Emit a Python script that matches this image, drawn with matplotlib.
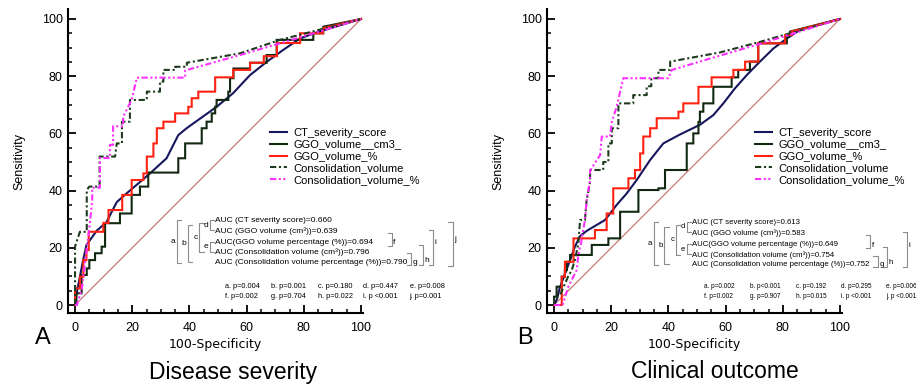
import matplotlib
matplotlib.use("Agg")
import matplotlib.pyplot as plt

plt.rcParams['font.family'] = ['Liberation Sans', 'DejaVu Sans']

# ---------------- data ----------------
series_names = ["CT_severity_score", "GGO_volume__cm3_", "GGO_volume_%",
                "Consolidation_volume", "Consolidation_volume_%"]
auc_labels = ["AUC (CT severity score)", "AUC (GGO volume (cm\u00b3))",
              "AUC(GGO volume percentage (%))", "AUC (Consolidation volume (cm\u00b3))",
              "AUC (Consolidation volume percentage (%))"]
p_letters = list("abcdefghij")
panel_letters = ["A", "B"]
panel_titles = ["Disease severity", "Clinical outcome"]

# Panel A (Disease severity): 100-Specificity (x) / Sensitivity (y)
a_ct_fpr = [0, 0.2, 1.7, 2.9, 4, 7.6, 11, 14.6, 18, 22.7, 26.2, 32, 36.1, 39, 49.5, 55.2, 61.2, 67, 72.8, 78.7, 85, 100]
a_ct_tpr = [0, 2.3, 9.9, 16, 21, 26, 29, 36, 39, 43, 46, 51.3, 59.4, 61.8, 69.3, 74, 80.4, 85, 89.2, 93.2, 95.5, 100]

a_ggo_cm3_fpr = [0, 0.5, 0.5, 2.3, 2.3, 4.1, 4.1, 5, 5, 7, 7, 9.3, 9.3, 10.5, 10.5, 15.7, 15.7, 19.8, 19.8, 22.7, 22.7, 25.6, 25.6,
                 36.1, 36.1, 38.5, 38.5, 44.3, 44.3, 46, 46, 47.8, 47.8, 49, 49, 49.5, 49.5, 53.6, 53.6, 54.2, 54.2, 55.4, 55.4,
                 61.2, 61.2, 67, 67, 70.5, 70.5, 83.3, 83.3, 86.8, 86.8, 100]
a_ggo_cm3_tpr = [0, 0, 4.1, 4.1, 10.5, 10.5, 12.8, 12.8, 15.7, 15.7, 18.1, 18.1, 20.4, 20.4, 28.6, 28.6, 32, 32, 38.5, 38.5, 41.4, 41.4, 46.3,
                 46.3, 51.3, 51.3, 56.5, 56.5, 61.8, 61.8, 64.1, 64.1, 67, 67, 69.3, 69.3, 71.7, 71.7, 74.6, 74.6, 79.3, 79.3, 82.7,
                 82.7, 84.7, 84.7, 87.4, 87.4, 92.7, 92.7, 95, 95, 97.3, 100]

a_ggo_pct_fpr = [0, 0, 1.7, 1.7, 2.9, 2.9, 4, 4, 4.8, 4.8, 9.9, 9.9, 11.7, 11.7, 16.5, 16.5, 19.8, 19.8, 23.9, 23.9, 25.1, 25.1,
                 27.4, 27.4, 28.6, 28.6, 30.9, 30.9, 35, 35, 39.6, 39.6, 40.8, 40.8, 43.1, 43.1, 49, 49, 55.3, 55.3, 61.2, 61.2,
                 66, 66, 70.6, 70.6, 78.7, 78.7, 86.7, 86.7, 100]
a_ggo_pct_tpr = [0, 5.8, 5.8, 9.9, 9.9, 15.7, 15.7, 19.2, 19.2, 25.6, 25.6, 28.7, 28.7, 33.2, 33.2, 38.5, 38.5, 43.7, 43.7, 46, 46, 51.9,
                 51.9, 56.5, 56.5, 61.8, 61.8, 64.1, 64.1, 67, 67, 69.3, 69.3, 72.3, 72.3, 74.6, 74.6, 79.6, 79.6, 82.2, 82.2, 84.7,
                 84.7, 87, 87, 91.6, 91.6, 95, 95, 96.8, 100]

a_cons_fpr = [0, 0, 1.7, 4.1, 4.1, 5, 8.6, 8.6, 14, 14.6, 16.4, 16.4, 19.2, 19.2, 25.1, 25.1, 29.7, 29.7, 30.9, 30.9, 35, 35,
              39.1, 39.1, 57.7, 71.7, 100]
a_cons_tpr = [0, 20.4, 25.6, 25.6, 40.2, 41.4, 41.4, 51.9, 51.9, 56.5, 56.5, 64.1, 64.1, 71.7, 71.7, 74.6, 74.6, 78.1, 78.1, 82.2,
              82.2, 83.3, 83.3, 84.7, 88, 92.7, 100]

a_cons_pct_fpr = [0, 0.6, 2.3, 3.5, 5.2, 6, 6, 8.7, 8.7, 12.2, 12.2, 13.3, 13.3, 16.8, 16.8, 19.8, 21.6, 38.5, 38.5, 57.7, 71.7, 100]
a_cons_pct_tpr = [0, 0, 5.2, 14.7, 28.7, 36.7, 41, 41, 51.4, 51.4, 56, 56, 62.5, 62.5, 65.8, 71.7, 79.5, 79.5, 82, 87.4, 91.5, 100]

# Panel B (Clinical outcome)
b_ct_fpr = [0, 1, 2, 3.5, 5.6, 7.3, 9.1, 11.4, 17.8, 21.9, 25.4, 28.9, 33.6, 38.2, 44, 51, 55.7, 59.2, 63.3, 67.4, 72, 76.7, 81.4, 86, 100]
b_ct_tpr = [0, 2, 6, 10, 15.7, 20.4, 24.1, 25.9, 29.7, 35, 39, 43.7, 50.7, 56.5, 59.6, 63, 66.4, 70.5, 75.8, 80.4, 85.1, 89.7, 93.2, 96.2, 100]

b_ggo_cm3_fpr = [0, 0, 0.9, 0.9, 2.7, 2.7, 3.8, 3.8, 4.5, 4.5, 5.6, 5.6, 13.2, 13.2, 19, 19, 23.1, 23.1, 29.5, 29.5, 36.5, 36.5,
                 38.8, 38.8, 46.4, 46.4, 48.7, 48.7, 50.5, 50.5, 51, 51, 52.2, 52.2, 55.7, 55.7, 62.1, 62.1, 64.4, 64.4, 68.5, 68.5,
                 71.4, 71.4, 81.4, 81.4, 82.5, 82.5, 100]
b_ggo_cm3_tpr = [0, 2.9, 2.9, 6.4, 6.4, 9.9, 9.9, 12.2, 12.2, 15.1, 15.1, 17.5, 17.5, 21, 21, 23.3, 23.3, 32.6, 32.6, 40.2, 40.2, 40.8,
                 40.8, 47.2, 47.2, 56.5, 56.5, 60, 60, 64, 64, 67.6, 67.6, 70.5, 70.5, 76.3, 76.3, 79.6, 79.6, 82.2, 82.2, 85.1,
                 85.1, 91.5, 91.5, 94.4, 94.4, 95.6, 100]

b_ggo_pct_fpr = [0, 2.7, 2.7, 3.8, 3.8, 6.8, 6.8, 14.3, 14.3, 18.4, 18.4, 20.7, 20.7, 26, 26, 28.3, 28.3, 30.1, 30.1, 31.2, 31.2,
                 33.6, 33.6, 35.9, 35.9, 43.5, 43.5, 45.2, 45.2, 50.5, 50.5, 55.1, 55.1, 62.7, 62.7, 66.8, 66.8, 71.4, 71.4,
                 80.8, 80.8, 83.1, 83.1, 100]
b_ggo_pct_tpr = [0, 0, 9.9, 9.9, 15.1, 15.1, 23.3, 23.3, 26.2, 26.2, 32, 32, 40.8, 40.8, 44.3, 44.3, 47.2, 47.2, 53, 53, 58.9,
                 58.9, 61.8, 61.8, 65.3, 65.3, 67.6, 67.6, 70.5, 70.5, 76.3, 76.3, 79.6, 79.6, 82.2, 82.2, 85.1, 85.1, 91.5,
                 91.5, 94.4, 94.4, 95.6, 100]

b_cons_fpr = [0, 0, 2.1, 4.9, 6.2, 7.3, 8.5, 9.1, 10.8, 11.4, 12.6, 12.6, 17.2, 17.2, 19, 19, 20.2, 20.2, 22.5, 22.5, 27.7, 27.7,
              32.4, 32.4, 34, 34, 36.5, 36.5, 40.6, 40.6, 58, 72, 100]
b_cons_tpr = [0, 2, 3.5, 9.9, 12.2, 15.7, 21.5, 29.7, 29.7, 36.7, 43, 47.2, 47.2, 50, 50, 56.5, 56.5, 61.8, 61.8, 70.5, 70.5, 73.4,
              73.4, 76.5, 76.5, 79.3, 79.3, 82.2, 82.2, 85.1, 88.3, 92, 100]

b_cons_pct_fpr = [0, 3, 5, 7.9, 8.5, 9.5, 10.8, 11.4, 12.6, 12.6, 16.1, 16.7, 19.6, 20.2, 21.9, 24.2, 40, 41.2, 58, 72, 100]
b_cons_pct_tpr = [0, 0, 6.4, 12.2, 17.5, 22, 29.7, 36.7, 43.7, 47, 52.4, 58.9, 58.9, 64.1, 69.3, 79.3, 79.3, 82.2, 87.2, 91.3, 100]

a_auc = [0.660, 0.639, 0.694, 0.796, 0.790]
b_auc = [0.613, 0.583, 0.649, 0.754, 0.752]
a_p = ["p=0.004", "p=0.001", "p=0.180", "p=0.447", "p=0.008",
       "p=0.002", "p=0.704", "p=0.022", "p <0.001", "p=0.001"]
b_p = ["p=0.002", "p<0.001", "p=0.192", "p=0.295", "p=0.006",
       "p=0.002", "p=0.907", "p=0.015", "p <0.001", "p <0.001"]

# ---------------- style ----------------
styles = [
    dict(color="#16165e", lw=1.5, ls="-"),
    dict(color="#112811", lw=1.5, ls="-"),
    dict(color="#ff2212", lw=1.5, ls="-"),
    dict(color="#1d3b1d", lw=1.5, dashes=(3, 1.3, 1, 1.3)),
    dict(color="#ff30ff", lw=1.5, dashes=(3, 1.2, 1, 1.2, 1, 1.2)),
]

W, H = 916, 390
fig = plt.figure(figsize=(W / 100, H / 100), dpi=100)

def px_axes(left_px):
    xlo, xhi, ylo, yhi = -2.6, 100.6, -2.9, 103.5
    s = 2.86
    w = (xhi - xlo) * s
    bottom_px = 305 - ylo * s
    h = (yhi - ylo) * s
    ax = fig.add_axes([left_px / W, (H - bottom_px) / H, w / W, h / H])
    ax.set_xlim(xlo, xhi)
    ax.set_ylim(ylo, yhi)
    return ax

def style_axes(ax):
    ax.patch.set_visible(False)
    for s in ["top", "right"]:
        ax.spines[s].set_visible(False)
    for s in ["left", "bottom"]:
        ax.spines[s].set_linewidth(1.5)
    ax.set_xticks(range(0, 101, 20))
    ax.set_yticks(range(0, 101, 20))
    ax.set_xticks(range(0, 101, 5), minor=True)
    ax.set_yticks(range(0, 101, 5), minor=True)
    ax.tick_params(which="major", direction="in", length=5.5, width=1.3, labelsize=9, pad=3.5)
    ax.tick_params(axis="x", which="major", pad=6)
    ax.tick_params(which="minor", direction="in", length=3, width=1.1)
    ax.set_xlabel("100-Specificity", fontsize=9, family=["DejaVu Sans"], labelpad=3)
    ax.set_ylabel("Sensitivity", fontsize=9, labelpad=12)

def annotate(ax, aucs, pv, x0, ys, rb, prow, fs, pfs, cols):
    bc = "#8c8c8c"
    for lab, auc, y in zip(auc_labels, aucs, ys):
        ax.text(x0, y, f"{lab}={auc:.3f}", fontsize=fs, va="center", ha="left", clip_on=False)
    t = 1.5
    def lbr(x, top, bot, letter):
        ax.plot([x + t, x, x, x + t], [top, top, bot, bot], color=bc, lw=0.8, clip_on=False)
        ax.text(x - 0.5, (top + bot) / 2, letter, ha="right", va="center", fontsize=fs, clip_on=False)
    def rbr(x, top, bot, letter, ly):
        ax.plot([x - t, x, x, x - t], [top, top, bot, bot], color=bc, lw=0.8, clip_on=False)
        ax.text(x + 0.5, ly, letter, ha="left", va="center", fontsize=fs, clip_on=False)
    lbr(x0 - 13.4, ys[0] + 0.3, ys[4] - 0.2, "a")
    lbr(x0 - 9.7, ys[0] - 1.4, ys[4] + 0.1, "b")
    lbr(x0 - 5.6, ys[0] - 0.7, ys[3], "c")
    lbr(x0 - 1.9, ys[0] + 0.3, ys[1] + 0.5, "d")
    lbr(x0 - 1.9, ys[2] + 0.1, ys[3] + 0.1, "e")
    rbr(rb[0], ys[1] - 0.5, ys[2] - 1.2, "f", ys[2] - 0.3)
    rbr(rb[1], ys[3] - 0.3, ys[4] - 0.9, "g", ys[4] - 0.1)
    rbr(rb[2], ys[2] - 1.0, ys[4] - 0.9, "h", ys[4] + 0.8)
    rbr(rb[3], ys[1] + 0.5, ys[4] - 0.9, "i", ys[2] - 0.3)
    rbr(rb[4], ys[0] - 0.4, ys[4] - 1.3, "j", ys[2] + 1.0)
    for k, (letter, p) in enumerate(zip(p_letters, pv)):
        ax.text(cols[k % 5], prow[k // 5], f"{letter}. {p}", fontsize=pfs, va="center",
                ha="left", clip_on=False)

panels = [
    dict(left=67.6,
         curves=[(a_ct_fpr, a_ct_tpr), (a_ggo_cm3_fpr, a_ggo_cm3_tpr), (a_ggo_pct_fpr, a_ggo_pct_tpr),
                 (a_cons_fpr, a_cons_tpr), (a_cons_pct_fpr, a_cons_pct_tpr)],
         auc=a_auc, p=a_p, x0=49.1, ys=[29.4, 25.7, 22.0, 18.5, 14.9],
         rb=[110.8, 117.5, 121.7, 125.3, 132.0], leg=(68.2, 62.0),
         fs=6.0, pfs=5.3, cols=[52.5, 68.6, 85.0, 100.7, 117.0]),
    dict(left=546.6,
         curves=[(b_ct_fpr, b_ct_tpr), (b_ggo_cm3_fpr, b_ggo_cm3_tpr), (b_ggo_pct_fpr, b_ggo_pct_tpr),
                 (b_cons_fpr, b_cons_tpr), (b_cons_pct_fpr, b_cons_pct_tpr)],
         auc=b_auc, p=b_p, x0=48.3, ys=[28.8, 25.0, 21.2, 17.6, 14.1],
         rb=[110.5, 113.2, 116.5, 123.4, 128.3], leg=(70.3, 62.0),
         fs=5.6, pfs=4.7, cols=[52.5, 68.5, 84.5, 100.3, 116.0]),
]

for i, pd in enumerate(panels):
    ax = px_axes(pd["left"])
    style_axes(ax)
    ax.plot([0, 100], [0, 100], color="#c06a6a", lw=0.8, zorder=1)
    handles = []
    for (fx, fy), name, st in zip(pd["curves"], series_names, styles):
        h, = ax.plot(fx, fy, label=name, zorder=2, solid_joinstyle="miter", **st)
        handles.append(h)
    ax.legend(handles=handles, loc="upper left", bbox_to_anchor=pd["leg"],
              bbox_transform=ax.transData, frameon=False, fontsize=8,
              handlelength=1.55, handletextpad=0.55, labelspacing=0.17,
              borderpad=0, borderaxespad=0)
    annotate(ax, pd["auc"], pd["p"], pd["x0"], pd["ys"], pd["rb"], [6.3, 3.1],
             pd["fs"], pd["pfs"], pd["cols"])
    lx = 43 if i == 0 else 525
    fig.text(lx / W, 1 - 338 / H, panel_letters[i], fontsize=17, ha="center", va="center")
    tx = 233 if i == 0 else 715
    fig.text(tx / W, 1 - 372 / H, panel_titles[i], fontsize=16.5, ha="center", va="center")

fig.savefig("out.png", dpi=100)
